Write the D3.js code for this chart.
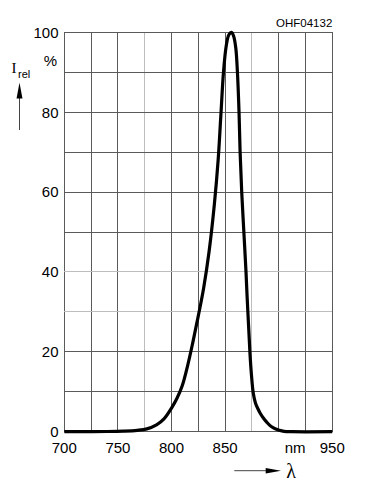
<!DOCTYPE html>
<html><head><meta charset="utf-8">
<script src="https://cdn.jsdelivr.net/npm/d3@7"></script>
<style>body{margin:0;background:#fff} svg{display:block}</style>
</head><body><svg id="c" width="384" height="488"></svg>
<script>
const wavelengths = [700,720,740,755,768,777,786,793,800,805,810,815,820,825,830,835,840,843.5,846,848.5,851,853.5,856,858,860,861.5,863,864,865.5,867.5,869.5,870.5,872,873.2,874.5,876.3,878.3,880.5,882.6,885.5,888.8,893,899.6,905,912,950];
const intensity   = [0,0,0.05,0.15,0.35,0.7,1.7,3.2,5.9,8.3,11.5,16.5,22.5,29,36,45,57,68,79,90,96.5,99.4,100,99,96,90,80,70,60,50,40,34,26,19.6,14.5,9.6,7.2,5.8,4.7,3.5,2.4,1.3,0.4,0.1,0,0];
const xTickValues = [700,750,800,850,900,950];
const xTickLabels = ["700","750","800","850","nm","950"];
const yTickValues = [0,20,40,60,80,100];
const xGridValues = [700,725,750,775,800,825,850,875,900,925,950];
const yGridValues = [0,10,20,30,40,50,60,70,80,90,100];
const lightXGrid = [775,875];
const lightYGrid = [30,40];
const chartCode = "OHF04132";
const yUnit = "%";

const svg = d3.select("#c");
const x = d3.scaleLinear().domain([700,950]).range([64.3,332.3]);
const y = d3.scaleLinear().domain([0,100]).range([431.7,32.3]);
const sans = "'Liberation Sans', Arial, sans-serif";
const serif = "'Liberation Serif', 'Times New Roman', serif";

// grid
const g = svg.append("g").attr("shape-rendering","crispEdges");
g.selectAll("line.vx").data(xGridValues).enter().append("line")
  .attr("x1",d=>x(d)).attr("x2",d=>x(d)).attr("y1",y(0)).attr("y2",y(100))
  .attr("stroke",d=>lightXGrid.includes(d)?"#bdbdbd":"#5a5a5a").attr("stroke-width",1);
g.selectAll("line.hy").data(yGridValues).enter().append("line")
  .attr("y1",d=>y(d)).attr("y2",d=>y(d)).attr("x1",x(700)).attr("x2",x(950))
  .attr("stroke",d=>lightYGrid.includes(d)?"#bdbdbd":"#5a5a5a").attr("stroke-width",1);

// curve
const pts = wavelengths.map((w,i)=>[w,intensity[i]]);
svg.append("path").datum(pts)
  .attr("d", d3.line().x(d=>x(d[0])).y(d=>y(d[1])).curve(d3.curveCatmullRom.alpha(0.5)))
  .attr("fill","none").attr("stroke","#000").attr("stroke-width",3.2).attr("stroke-linejoin","round");

// y labels
svg.selectAll("text.yl").data(yTickValues).enter().append("text")
  .attr("x",58.5).attr("y",d=>y(d)).attr("dy","0.36em")
  .attr("text-anchor","end").attr("font-family",sans).attr("font-size",15)
  .text(d=>d);
svg.append("text").attr("x",57).attr("y",y(93)).attr("dy","0.36em")
  .attr("text-anchor","end").attr("font-family",sans).attr("font-size",15).text(yUnit);

// x labels
svg.selectAll("text.xl").data(xTickValues).enter().append("text")
  .attr("x",(d,i)=>x(d)+(xTickLabels[i]==="nm"?16.5:0)).attr("y",452.7)
  .attr("text-anchor","middle").attr("font-family",sans).attr("font-size",15)
  .text((d,i)=>xTickLabels[i]);

// code
svg.append("text").attr("x",332.3).attr("y",27).attr("text-anchor","end")
  .attr("font-family",sans).attr("font-size",11.5).text(chartCode);

// I_rel
svg.append("text").attr("x",11.5).attr("y",73.3).attr("font-family",serif).attr("font-size",15).text("I");
svg.append("text").attr("x",18).attr("y",78.3).attr("font-family",sans).attr("font-size",11).text("rel");
svg.append("line").attr("x1",19.5).attr("x2",19.5).attr("y1",130).attr("y2",95)
  .attr("stroke","#444").attr("stroke-width",1);
svg.append("polygon").attr("points","16.5,98.5 22.5,98.5 19.5,82.7").attr("fill","#000");

// lambda
svg.append("line").attr("x1",234.3).attr("x2",268).attr("y1",470.7).attr("y2",470.7)
  .attr("stroke","#444").attr("stroke-width",1);
svg.append("polygon").attr("points","265.7,468 265.7,473.4 281,470.7").attr("fill","#000");
svg.append("text").attr("x",286.3).attr("y",477.8).attr("font-family",serif).attr("font-size",20).text("λ");
</script></body></html>
